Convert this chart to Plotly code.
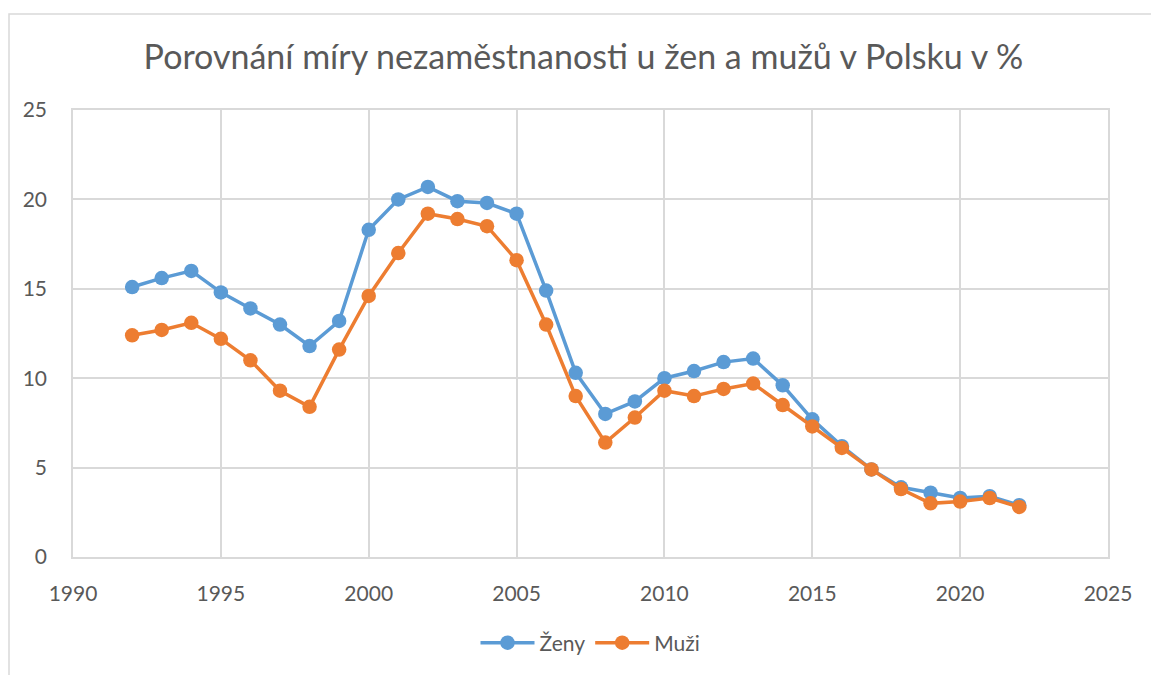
import plotly.graph_objects as go

years = list(range(1992, 2023))
zeny = [15.1, 15.6, 16.0, 14.8, 13.9, 13.0, 11.8, 13.2, 18.3, 20.0, 20.7, 19.9, 19.8, 19.2,
        14.9, 10.3, 8.0, 8.7, 10.0, 10.4, 10.9, 11.1, 9.6, 7.7, 6.2, 4.9, 3.9, 3.6, 3.3, 3.4, 2.9]
muzi = [12.4, 12.7, 13.1, 12.2, 11.0, 9.3, 8.4, 11.6, 14.6, 17.0, 19.2, 18.9, 18.5, 16.6,
        13.0, 9.0, 6.4, 7.8, 9.3, 9.0, 9.4, 9.7, 8.5, 7.3, 6.1, 4.9, 3.8, 3.0, 3.1, 3.3, 2.8]

title = "Porovnání míry nezaměstnanosti u žen a mužů v Polsku v %"
TXT = "#595959"
GRID = "#d9d9d9"
FONT = "Lato, Open Sans, sans-serif"

fig = go.Figure()
fig.add_trace(go.Scatter(x=years, y=zeny, name="Ženy", mode="lines+markers",
                         line=dict(color="#5B9BD5", width=3.5),
                         marker=dict(color="#5B9BD5", size=14.5)))
fig.add_trace(go.Scatter(x=years, y=muzi, name="Muži", mode="lines+markers",
                         line=dict(color="#ED7D31", width=3.5),
                         marker=dict(color="#ED7D31", size=14.5)))

# page body has an 8px margin, so the figure is shifted by 8px
OFF = 8
L, R, T, B = 73 - OFF, 51, 110 - OFF, 113
W, H = 1159 - OFF, 675 - OFF
pw, ph = W - L - R, H - T - B

fig.update_layout(
    width=W, height=H,
    margin=dict(l=L, r=R, t=T, b=B),
    paper_bgcolor="white", plot_bgcolor="white",
    font=dict(family=FONT, color=TXT, size=21),
    title=dict(text=title, x=0.5, xanchor="center", y=1 - (57 - OFF) / H, yanchor="middle",
               yref="container", font=dict(family=FONT, size=34, color=TXT)),
    xaxis=dict(range=[1990, 2025], tickvals=[1990, 1995, 2000, 2005, 2010, 2015, 2020, 2025],
               showgrid=True, gridcolor=GRID, gridwidth=1.5, zeroline=False,
               showline=True, mirror=True, linecolor=GRID, linewidth=1.5,
               ticks="", ticklabelstandoff=17,
               tickfont=dict(size=21, color=TXT, family=FONT)),
    yaxis=dict(range=[0, 25], tickvals=[0, 5, 10, 15, 20, 25],
               showgrid=True, gridcolor=GRID, gridwidth=1.5, zeroline=False,
               showline=True, mirror=True, linecolor=GRID, linewidth=1.5,
               ticks="", ticklabelstandoff=20,
               tickfont=dict(size=21, color=TXT, family=FONT)),
    legend=dict(orientation="h", x=0.5, xanchor="center", y=(561 - 648) / ph,
                yanchor="middle", font=dict(size=21, color=TXT, family=FONT),
                itemwidth=54, bgcolor="rgba(0,0,0,0)"),
    hovermode=False,
)

# chart frame (outer border)
fig.add_shape(type="rect", xref="paper", yref="paper",
              x0=(9 - 73) / pw, x1=(1159 + 20 - 73) / pw,
              y0=(561 - (675 + 20)) / ph, y1=(561 - 12) / ph,
              line=dict(color="#d9d9d9", width=1.5), layer="below")

fig.write_html("out.html")
